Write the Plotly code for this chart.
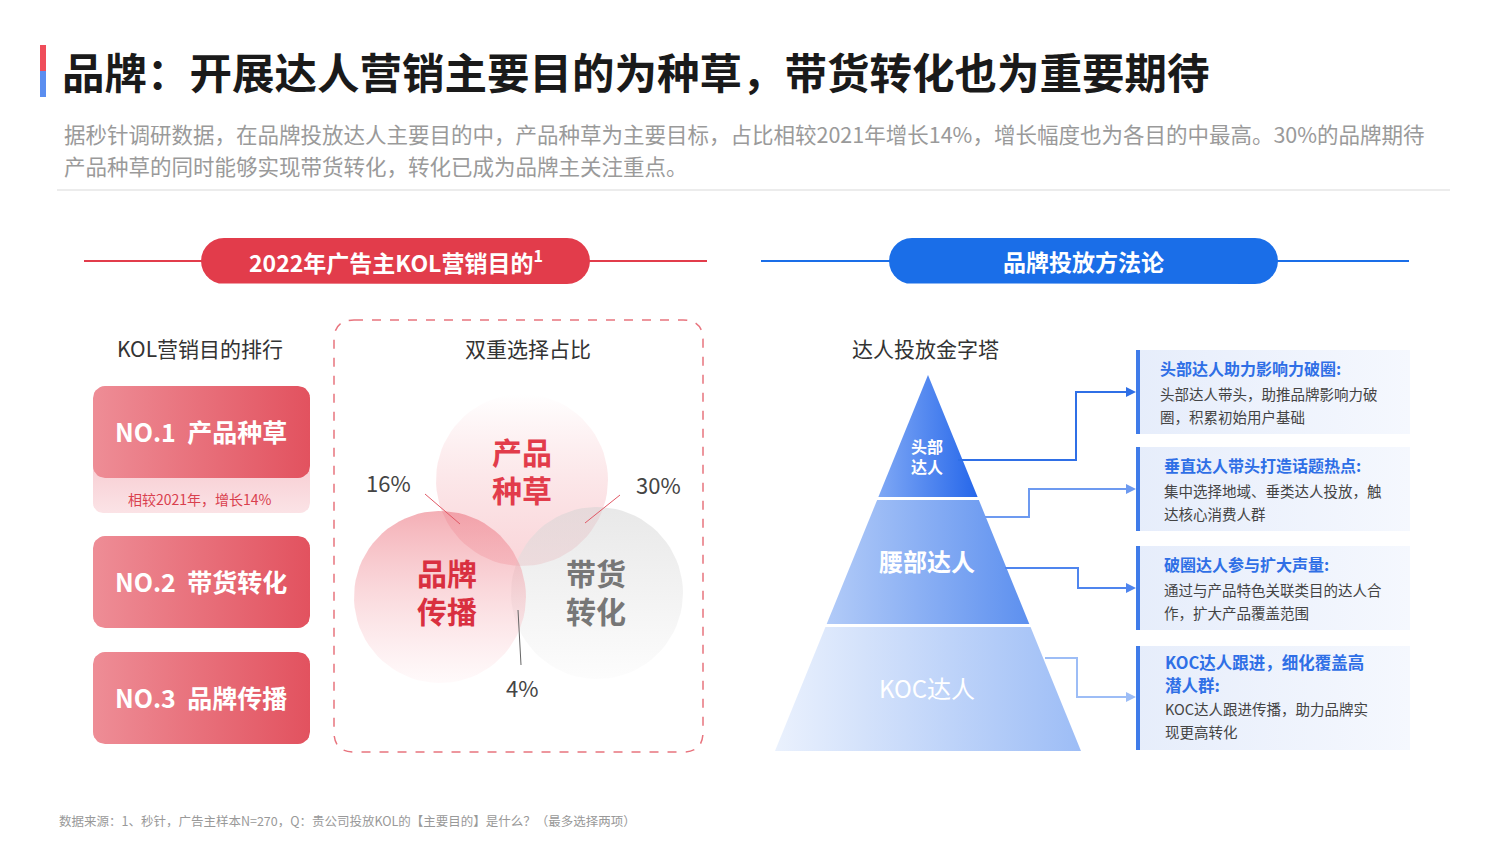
import plotly.graph_objects as go
import numpy as np

title = "品牌：开展达人营销主要目的为种草，带货转化也为重要期待"
subtitle = ["据秒针调研数据，在品牌投放达人主要目的中，产品种草为主要目标，占比相较2021年增长14%，增长幅度也为各目的中最高。30%的品牌期待",
            "产品种草的同时能够实现带货转化，转化已成为品牌主关注重点。"]
rank_labels = ["NO.1  产品种草", "NO.2  带货转化", "NO.3  品牌传播"]
rank_note = "相较2021年，增长14%"
venn_labels = [["产品", "种草"], ["品牌", "传播"], ["带货", "转化"]]
venn_pcts = ["16%", "30%", "4%"]
tiers = [["头部", "达人"], ["腰部达人"], ["KOC达人"]]
desc_titles = [["头部达人助力影响力破圈:"], ["垂直达人带头打造话题热点:"], ["破圈达人参与扩大声量:"], ["KOC达人跟进，细化覆盖高", "潜人群:"]]
desc_texts = [["头部达人带头，助推品牌影响力破", "圈，积累初始用户基础"],
              ["集中选择地域、垂类达人投放，触", "达核心消费人群"],
              ["通过与产品特色关联类目的达人合", "作，扩大产品覆盖范围"],
              ["KOC达人跟进传播，助力品牌实", "现更高转化"]]
source = "数据来源：1、秒针，广告主样本N=270，Q：贵公司投放KOL的【主要目的】是什么？（最多选择两项）"

F = "Noto Sans CJK SC"
RED = "#e23c4b"; BLUE = "#1a6ee8"
fig = go.Figure()
shapes = []; ann = []

def rr(x0, y0, x1, y1, r, n=8):
    xs, ys = [], []
    for cx, cy, a0 in [(x1-r, y0+r, -90), (x1-r, y1-r, 0), (x0+r, y1-r, 90), (x0+r, y0+r, 180)]:
        for a in np.linspace(a0, a0+90, n):
            xs.append(cx + r*np.cos(np.radians(a))); ys.append(cy + r*np.sin(np.radians(a)))
    xs.append(xs[0]); ys.append(ys[0])
    return xs, ys

def poly(xs, ys, c0, c1, gtype="horizontal"):
    fig.add_trace(go.Scatter(x=xs, y=ys, mode="lines", fill="toself",
        line=dict(width=0, color="rgba(0,0,0,0)"),
        fillgradient=dict(type=gtype, colorscale=[[0, c0], [1, c1]]),
        hoverinfo="skip", showlegend=False))

def txt(x, y, t, size, color, bold=False, xa="left", ya="middle"):
    ann.append(dict(x=x, y=y, text=f"<b>{t}</b>" if bold else t, showarrow=False,
        font=dict(family=F, size=size, color=color), xanchor=xa, yanchor=ya))

def lines(x, y, arr, gap, size, color, bold=False, xa="left"):
    for k, t in enumerate(arr):
        txt(x, y + k*gap, t, size, color, bold, xa)

# header
shapes.append(dict(type="rect", x0=40, x1=46, y0=45, y1=71, fillcolor="#ef4d5a", line_width=0))
shapes.append(dict(type="rect", x0=40, x1=46, y0=71, y1=97, fillcolor="#5b8ef0", line_width=0))
txt(60, 70, title, 42.5, "#1a1a1a", True)
txt(62, 133, subtitle[0], 21.5, "#9a9a9a")
txt(62, 165, subtitle[1], 21.5, "#9a9a9a")
shapes.append(dict(type="line", x0=57, x1=1450, y0=190, y1=190, line=dict(color="#e6e6e6", width=1.5)))

# section headers
for (l0, p0, p1, l1, col, label) in [(84, 201, 590, 707, RED, "2022年广告主KOL营销目的<sup>1</sup>"),
                                     (761, 889, 1278, 1409, BLUE, "品牌投放方法论")]:
    shapes.append(dict(type="line", x0=l0, x1=l1, y0=261, y1=261, line=dict(color=col, width=2)))
    xs, ys = rr(p0, 238, p1, 284, 23)
    fig.add_trace(go.Scatter(x=xs, y=ys, fill="toself", fillcolor=col, mode="lines", line_width=0, hoverinfo="skip", showlegend=False))
    txt((p0+p1)/2, 261, label, 23, "white", True, "center")

# left column
txt(200, 348, "KOL营销目的排行", 21, "#333", False, "center")
xs, ys = rr(93, 455, 310, 513, 10)
poly(xs, ys, "#fbe3e6", "#f7c9cf", "vertical")
txt(200, 499, rank_note, 14, "#d9404e", False, "center")
for i, y0 in enumerate([386, 536, 652]):
    xs, ys = rr(93, y0, 310, y0+92, 12)
    poly(xs, ys, "#ee8d96", "#e2525f", "horizontal")
    txt(201, y0+45, rank_labels[i], 25, "white", True, "center")

# venn
shapes.append(dict(type="path", path="M 354 320 L 683 320 Q 703 320 703 340 L 703 732 Q 703 752 683 752 L 354 752 Q 334 752 334 732 L 334 340 Q 334 320 354 320 Z",
                   line=dict(color="#e8747e", width=1.5, dash="dash")))
txt(528, 348, "双重选择占比", 21, "#333", False, "center")
a = np.linspace(0, 2*np.pi, 80)
for (cx, cy, c0, c1) in [(522, 480, "rgba(255,255,255,0.5)", "rgba(240,140,150,0.35)"),
                         (597, 593, "rgba(210,210,210,0.5)", "rgba(250,250,250,0.5)"),
                         (440, 597, "rgba(235,110,122,0.55)", "rgba(255,240,242,0.35)")]:
    poly(list(cx+86*np.cos(a)), list(cy+86*np.sin(a)), c1, c0, "vertical")
lines(522, 451, venn_labels[0], 38, 30, "#e23c4b", True, "center")
lines(447, 572, venn_labels[1], 38, 30, "#d93040", True, "center")
lines(596, 572, venn_labels[2], 38, 30, "#777", True, "center")
txt(388, 482, venn_pcts[0], 22, "#444", False, "center")
txt(658, 484, venn_pcts[1], 22, "#444", False, "center")
txt(522, 687, venn_pcts[2], 22, "#444", False, "center")
for (x0, y0, x1, y1, c) in [(425, 494, 460, 524, "#e05865"), (620, 495, 585, 523, "#e05865"), (518, 610, 521, 665, "#666")]:
    shapes.append(dict(type="line", x0=x0, y0=y0, x1=x1, y1=y1, line=dict(color=c, width=1)))

# pyramid
txt(925, 348, "达人投放金字塔", 21, "#333", False, "center")
ax, ay, by, hw = 928, 375, 751, 153
def w(y): return (y-ay)/(by-ay)*hw
bands = [(ay, 497, "#7fa8f5", "#2667ea"), (500, 624, "#b2cbf8", "#5d90ef"), (627, by, "#eaf1fd", "#9dbdf6")]
for i, (y0, y1, c0, c1) in enumerate(bands):
    if i == 0:
        xs = [ax, ax+w(y1), ax-w(y1), ax]; ys = [y0, y1, y1, y0]
    else:
        xs = [ax-w(y0), ax+w(y0), ax+w(y1), ax-w(y1), ax-w(y0)]; ys = [y0, y0, y1, y1, y0]
    poly(xs, ys, c0, c1, "horizontal")
lines(927, 446, tiers[0], 20, 16, "white", True, "center")
txt(927, 560, tiers[1][0], 24, "white", True, "center")
txt(927, 687, tiers[2][0], 24, "white", False, "center")

conns = [[(958, 460), (1076, 460), (1076, 392), (1131, 392), "#2f6fe6"],
         [(985, 517), (1029, 517), (1029, 489), (1131, 489), "#6d9af0"],
         [(1005, 568), (1078, 568), (1078, 588), (1131, 588), "#4f85ee"],
         [(1045, 658), (1077, 658), (1077, 697), (1131, 697), "#9dbdf6"]]
for c in conns:
    pts, col = c[:4], c[4]
    fig.add_trace(go.Scatter(x=[p[0] for p in pts], y=[p[1] for p in pts], mode="lines",
                             line=dict(color=col, width=2), hoverinfo="skip", showlegend=False))
    ann.append(dict(x=1136, y=pts[3][1], ax=1126, ay=pts[3][1], axref="x", ayref="y", xref="x", yref="y",
                    showarrow=True, arrowhead=2, arrowsize=1, arrowwidth=2, arrowcolor=col, text=""))

boxes = [(350, 434), (447, 531), (546, 630), (646, 750)]
for i, (y0, y1) in enumerate(boxes):
    poly([1136, 1410, 1410, 1136, 1136], [y0, y0, y1, y1, y0], "#e6edfb", "#f5f8fe", "horizontal")
    shapes.append(dict(type="rect", x0=1136, x1=1140, y0=y0, y1=y1, fillcolor="#3f7be9", line_width=0))
    if i < 3:
        x = 1158 if i == 0 else 1162
        lines(x, y0+18, desc_titles[i], 23, 16, "#2f6fe6", True)
        lines(x, y0+43, desc_texts[i], 23, 14.5, "#444")
    else:
        lines(1163, y0+16, desc_titles[i], 23, 16.5, "#2f6fe6", True)
        lines(1163, y0+62, desc_texts[i], 23, 14.5, "#444")

txt(57, 820, source, 12.5, "#999")

fig.update_layout(width=1511, height=850, margin=dict(l=0, r=0, t=0, b=0),
                  plot_bgcolor="white", paper_bgcolor="white", shapes=shapes, annotations=ann,
                  xaxis=dict(range=[0, 1511], visible=False, fixedrange=True),
                  yaxis=dict(range=[850, 0], visible=False, fixedrange=True))
fig.write_html("out.html", config={"displayModeBar": False},
               post_script="document.body.style.margin='0';document.body.style.overflow='hidden';")
